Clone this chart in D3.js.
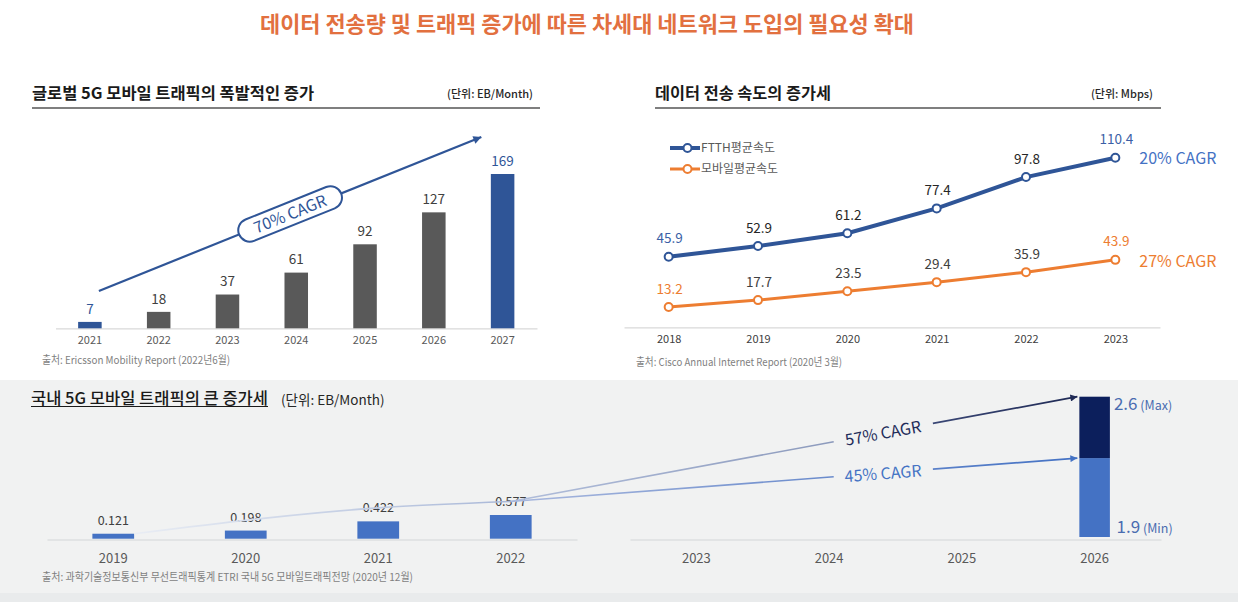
<!DOCTYPE html>
<html>
<head>
<meta charset="utf-8">
<script src="https://cdn.jsdelivr.net/npm/d3@7"></script>
<style>
  body { margin: 0; background: #fff; }
  svg text { font-family: "Noto Sans CJK KR", "Noto Sans", sans-serif; }
</style>
</head>
<body>
<div id="chart"></div>
<script>
// global 5G mobile traffic (EB/Month)
var globalYears = ["2021", "2022", "2023", "2024", "2025", "2026", "2027"];
var globalTraffic = [7, 18, 37, 61, 92, 127, 169];

// data transfer speed (Mbps)
var speedYears = ["2018", "2019", "2020", "2021", "2022", "2023"];
var ftthSpeed = [45.9, 52.9, 61.2, 77.4, 97.8, 110.4];
var mobileSpeed = [13.2, 17.7, 23.5, 29.4, 35.9, 43.9];
var speedSeries = ["FTTH평균속도", "모바일평균속도"];
var speedCagr = ["20% CAGR", "27% CAGR"];

// domestic 5G mobile traffic (EB/Month)
var krYears = ["2019", "2020", "2021", "2022"];
var krTraffic = [0.121, 0.198, 0.422, 0.577];
var forecastYears = ["2023", "2024", "2025", "2026"];
var forecast2026 = [1.9, 2.6];          // min, max
var forecastNames = ["(Min)", "(Max)"];
var forecastCagr = ["45% CAGR", "57% CAGR"];

var W = 1238, H = 602;
var blue = "#2f5597", mid = "#4472c4", navy = "#0c1f5c", orange = "#ed7d31";

var svg = d3.select("#chart").append("svg")
  .attr("width", W)
  .attr("height", H);
var defs = svg.append("defs");

// text placed by its visual centre
function label(g, x, cy, txt, size, color, anchor, weight) {
  return g.append("text")
    .attr("x", x)
    .attr("y", cy + size * 0.36)
    .attr("font-size", size)
    .attr("fill", color)
    .attr("text-anchor", anchor || "start")
    .attr("font-weight", weight || 400)
    .text(txt);
}

function arrowMarker(id, color, len, wid) {
  defs.append("marker")
    .attr("id", id)
    .attr("viewBox", "0 0 10 10")
    .attr("refX", 10).attr("refY", 5)
    .attr("markerUnits", "userSpaceOnUse")
    .attr("markerWidth", len).attr("markerHeight", wid)
    .attr("orient", "auto")
    .append("path")
    .attr("d", "M0,0L10,5L0,10Z")
    .attr("fill", color);
}

function gradient(id, x1, x2, stops) {
  var g = defs.append("linearGradient")
    .attr("id", id)
    .attr("gradientUnits", "userSpaceOnUse")
    .attr("x1", x1).attr("x2", x2).attr("y1", 0).attr("y2", 0);
  stops.forEach(function(s) {
    g.append("stop").attr("offset", s[0]).attr("stop-color", s[1]);
  });
}

function styleAxis(g, size, color, line) {
  g.select(".domain").attr("stroke", line).attr("stroke-width", 1.2);
  g.selectAll("text").attr("font-size", size).attr("fill", color);
}

// main title
label(svg, 587, 24, "데이터 전송량 및 트래픽 증가에 따른 차세대 네트워크 도입의 필요성 확대", 22, "#e2703f", "middle", 700)
  .attr("textLength", 654)
  .attr("lengthAdjust", "spacingAndGlyphs");

// ---------- panel 1 : global 5G traffic ----------
label(svg, 32, 93, "글로벌 5G 모바일 트래픽의 폭발적인 증가", 16, "#1a1a1a", "start", 700)
  .attr("textLength", 282).attr("lengthAdjust", "spacingAndGlyphs");
label(svg, 533, 94.5, "(단위: EB/Month)", 11, "#262626", "end", 500);
svg.append("line")
  .attr("x1", 32).attr("x2", 540).attr("y1", 108).attr("y2", 108)
  .attr("stroke", "#7f7f7f").attr("stroke-width", 2);

var xL = d3.scaleBand().domain(globalYears).range([55.5, 537]).paddingInner(0.658).paddingOuter(0.329);
var yL = d3.scaleLinear().domain([0, 169]).range([328.3, 174]);
var lastL = globalYears.length - 1;

svg.append("g")
  .attr("transform", "translate(0," + yL(0) + ")")
  .call(d3.axisBottom(xL).tickSize(0).tickSizeOuter(0).tickPadding(8))
  .call(styleAxis, 11, "#595959", "#d9d9d9");

svg.append("g").selectAll("rect")
  .data(globalTraffic)
  .join("rect")
  .attr("x", function(d, i) { return xL(globalYears[i]); })
  .attr("width", xL.bandwidth())
  .attr("y", function(d) { return yL(d); })
  .attr("height", function(d) { return yL(0) - yL(d); })
  .attr("fill", function(d, i) { return (i == 0 || i == lastL) ? blue : "#595959"; });

svg.append("g").selectAll("text")
  .data(globalTraffic)
  .join("text")
  .attr("x", function(d, i) { return xL(globalYears[i]) + xL.bandwidth() / 2; })
  .attr("y", function(d) { return yL(d) - 8.3; })
  .attr("text-anchor", "middle")
  .attr("font-size", 13.5)
  .attr("fill", function(d, i) { return (i == 0 || i == lastL) ? blue : "#404040"; })
  .text(function(d) { return d; });

// 70% CAGR arrow
arrowMarker("headBlue", blue, 11, 8);
var a0 = [xL(globalYears[0]) + xL.bandwidth() / 2 + 9, yL(globalTraffic[0]) - 31];
var a1 = [xL(globalYears[lastL]) - 9.5, yL(globalTraffic[lastL]) - 37];
svg.append("line")
  .attr("x1", a0[0]).attr("y1", a0[1]).attr("x2", a1[0]).attr("y2", a1[1])
  .attr("stroke", blue).attr("stroke-width", 2.2)
  .attr("marker-end", "url(#headBlue)");
var ang = Math.atan2(a1[1] - a0[1], a1[0] - a0[0]) * 180 / Math.PI;
var pill = svg.append("g")
  .attr("transform", "translate(" + (a0[0] + a1[0]) / 2 + "," + (a0[1] + a1[1]) / 2 + ") rotate(" + ang + ")");
pill.append("rect")
  .attr("x", -55).attr("y", -11.5).attr("width", 110).attr("height", 23).attr("rx", 11.5)
  .attr("fill", "#fff").attr("stroke", blue).attr("stroke-width", 2);
label(pill, 0, 0, "70% CAGR", 16, blue, "middle");

label(svg, 42, 360, "출처: Ericsson Mobility Report (2022년6월)", 11, "#7f7f7f")
  .attr("textLength", 188).attr("lengthAdjust", "spacingAndGlyphs");

// ---------- panel 2 : transfer speed ----------
label(svg, 655, 93, "데이터 전송 속도의 증가세", 16, "#1a1a1a", "start", 700)
  .attr("textLength", 176).attr("lengthAdjust", "spacingAndGlyphs");
label(svg, 1153, 94.5, "(단위: Mbps)", 11, "#262626", "end", 500);
svg.append("line")
  .attr("x1", 655).attr("x2", 1161).attr("y1", 108).attr("y2", 108)
  .attr("stroke", "#7f7f7f").attr("stroke-width", 2);

var xR = d3.scalePoint().domain(speedYears).range([624, 1160]).padding(0.5);
var yR = d3.scaleLinear().domain([0, 110.4]).range([327.3, 157.7]);

svg.append("g")
  .attr("transform", "translate(0," + yR(0) + ")")
  .call(d3.axisBottom(xR).tickSize(0).tickSizeOuter(0).tickPadding(8))
  .call(styleAxis, 11, "#404040", "#d9d9d9");

var series = [
  { values: ftthSpeed, color: blue, width: 4, tip: mid, text: "#262626" },
  { values: mobileSpeed, color: orange, width: 3, tip: orange, text: "#404040" }
];
var line = d3.line()
  .x(function(d, i) { return xR(speedYears[i]); })
  .y(function(d) { return yR(d); });
var lastR = speedYears.length - 1;

series.forEach(function(s, k) {
  svg.append("path")
    .datum(s.values)
    .attr("fill", "none")
    .attr("stroke", s.color)
    .attr("stroke-width", s.width)
    .attr("d", line);
  svg.append("g").selectAll("circle")
    .data(s.values)
    .join("circle")
    .attr("cx", function(d, i) { return xR(speedYears[i]); })
    .attr("cy", function(d) { return yR(d); })
    .attr("r", 4)
    .attr("fill", "#fff")
    .attr("stroke", s.color)
    .attr("stroke-width", 2);
  svg.append("g").selectAll("text")
    .data(s.values)
    .join("text")
    .attr("x", function(d, i) { return xR(speedYears[i]) + 1; })
    .attr("y", function(d) { return yR(d) - 13.4; })
    .attr("text-anchor", "middle")
    .attr("font-size", 13.5)
    .attr("fill", function(d, i) { return (i == 0 || i == lastR) ? (k == 0 ? "#3b5fa6" : orange) : s.text; })
    .text(function(d) { return d.toFixed(1); });
  // cagr label at the end of the line
  label(svg, xR(speedYears[lastR]) + 24, yR(s.values[lastR]) + 1, speedCagr[k], 16, s.tip);
  // legend
  var ly = 148 + k * 21;
  svg.append("line")
    .attr("x1", 670).attr("x2", 700).attr("y1", ly).attr("y2", ly)
    .attr("stroke", s.color).attr("stroke-width", s.width);
  svg.append("circle")
    .attr("cx", 687.5).attr("cy", ly).attr("r", 4)
    .attr("fill", "#fff").attr("stroke", s.color).attr("stroke-width", 2);
  label(svg, 701, ly, speedSeries[k], 12, "#595959")
    .attr("textLength", k == 0 ? 74 : 77).attr("lengthAdjust", "spacingAndGlyphs");
});

label(svg, 636, 362, "출처: Cisco Annual Internet Report (2020년 3월)", 11, "#7f7f7f")
  .attr("textLength", 206).attr("lengthAdjust", "spacingAndGlyphs");

// ---------- panel 3 : domestic 5G traffic ----------
svg.append("rect").attr("x", 0).attr("y", 380).attr("width", W).attr("height", 213).attr("fill", "#f1f2f2");
svg.append("rect").attr("x", 0).attr("y", 593).attr("width", W).attr("height", 9).attr("fill", "#e9ebec");

label(svg, 31, 398.5, "국내 5G 모바일 트래픽의 큰 증가세", 16, "#1a1a1a", "start", 500)
  .attr("textLength", 237).attr("lengthAdjust", "spacingAndGlyphs");
svg.append("line")
  .attr("x1", 31).attr("x2", 268).attr("y1", 406.5).attr("y2", 406.5)
  .attr("stroke", "#1a1a1a").attr("stroke-width", 1.2);
label(svg, 281, 400, "(단위: EB/Month)", 13.5, "#262626");

var xB1 = d3.scaleBand().domain(krYears).range([47, 577]).paddingInner(0.685).paddingOuter(0.3425);
var yB1 = d3.scaleLinear().domain([0, 0.577]).range([538.7, 515]);
// forecast bar is drawn on its own scale, not zero based, as in the picture
var xB2 = d3.scaleBand().domain(forecastYears).range([630, 1161]).paddingInner(0.77).paddingOuter(0.385);
var yB2 = d3.scaleLinear().domain([1, 2.6]).range([537, 396.7]);

svg.append("g")
  .attr("transform", "translate(0,539.5)")
  .call(d3.axisBottom(xB1).tickSize(0).tickSizeOuter(0).tickPadding(14))
  .call(styleAxis, 13, "#595959", "#d3d6d8");
svg.append("g")
  .attr("transform", "translate(0,539.5)")
  .call(d3.axisBottom(xB2).tickSize(0).tickSizeOuter(0).tickPadding(14))
  .call(styleAxis, 13, "#595959", "#d3d6d8");

svg.append("g").selectAll("rect")
  .data(krTraffic)
  .join("rect")
  .attr("x", function(d, i) { return xB1(krYears[i]); })
  .attr("width", xB1.bandwidth())
  .attr("y", function(d) { return yB1(d); })
  .attr("height", function(d) { return yB1(0) - yB1(d); })
  .attr("fill", mid);

svg.append("g").selectAll("text")
  .data(krTraffic)
  .join("text")
  .attr("x", function(d, i) { return xB1(krYears[i]) + xB1.bandwidth() / 2; })
  .attr("y", function(d) { return yB1(d) - 9; })
  .attr("text-anchor", "middle")
  .attr("font-size", 12.5)
  .attr("fill", "#404040")
  .text(function(d) { return d.toFixed(3); });

// 2026 forecast bar: min part and max part
var fx = xB2(forecastYears[3]), fw = xB2.bandwidth();
svg.append("rect")
  .attr("x", fx).attr("width", fw)
  .attr("y", yB2(forecast2026[0])).attr("height", yB2(1) - yB2(forecast2026[0]))
  .attr("fill", mid);
svg.append("rect")
  .attr("x", fx).attr("width", fw)
  .attr("y", yB2(forecast2026[1])).attr("height", yB2(forecast2026[0]) - yB2(forecast2026[1]))
  .attr("fill", navy);

var maxTxt = label(svg, fx + fw + 4, yB2(forecast2026[1]) + 7.6, "", 17, "#4a6cb0");
maxTxt.append("tspan").text(forecast2026[1].toFixed(1));
maxTxt.append("tspan").attr("font-size", 12.5).text(" " + forecastNames[1]);
var minTxt = label(svg, fx + fw + 6.7, yB2(1) - 9.7, "", 17, "#4a6cb0");
minTxt.append("tspan").text(forecast2026[0].toFixed(1));
minTxt.append("tspan").attr("font-size", 12.5).text(" " + forecastNames[0]);

// trend line through the labels, then the two cagr arrows
var bw1 = xB1.bandwidth();
var pts = [
  [xB1(krYears[0]) + bw1, yB1(krTraffic[0])],
  [xB1(krYears[2]) + bw1 / 2, yB1(krTraffic[2]) - 13.5],
  [xB1(krYears[3]) + bw1 / 2, yB1(krTraffic[3]) - 13.5]
];
gradient("gBase", pts[0][0], pts[2][0], [[0, "#e9edf4"], [1, "#a9b8d8"]]);
svg.append("path")
  .datum(pts)
  .attr("fill", "none")
  .attr("stroke", "url(#gBase)")
  .attr("stroke-width", 1.6)
  .attr("d", d3.line().curve(d3.curveMonotoneX));

var pivot = pts[2];
var tipX = fx - 2;
gradient("gMax", pivot[0], tipX, [[0, "#b1bedb"], [0.56, "#8d9bbd"], [0.75, "#3a4775"], [1, "#1f2a55"]]);
gradient("gMin", pivot[0], tipX, [[0, "#aab9de"], [0.56, "#6a8bcc"], [1, mid]]);
arrowMarker("headNavy", "#1f2a55", 10, 7);
arrowMarker("headMid", mid, 10, 7);

[
  { v: forecast2026[1], grad: "url(#gMax)", head: "url(#headNavy)", text: forecastCagr[1], color: "#1f2d5a" },
  { v: forecast2026[0], grad: "url(#gMin)", head: "url(#headMid)", text: forecastCagr[0], color: mid }
].forEach(function(c) {
  var tip = [tipX, yB2(c.v)];
  var at = function(t) { return [pivot[0] + (tip[0] - pivot[0]) * t, pivot[1] + (tip[1] - pivot[1]) * t]; };
  var g0 = at(0.57), g1 = at(0.745), mid2 = at(0.657);
  svg.append("line")
    .attr("x1", pivot[0]).attr("y1", pivot[1]).attr("x2", g0[0]).attr("y2", g0[1])
    .attr("stroke", c.grad).attr("stroke-width", 1.6);
  svg.append("line")
    .attr("x1", g1[0]).attr("y1", g1[1]).attr("x2", tip[0]).attr("y2", tip[1])
    .attr("stroke", c.grad).attr("stroke-width", 1.8)
    .attr("marker-end", c.head);
  var a = Math.atan2(tip[1] - pivot[1], tip[0] - pivot[0]) * 180 / Math.PI;
  var tg = svg.append("g")
    .attr("transform", "translate(" + mid2[0] + "," + (mid2[1] + 0.5) + ") rotate(" + a + ")");
  label(tg, 0, 0, c.text, 16, c.color, "middle");
});

label(svg, 42, 577.3, "출처: 과학기술정보통신부 무선트래픽통계 ETRI 국내 5G 모바일트래픽전망 (2020년 12월)", 11, "#7f7f7f")
  .attr("textLength", 371).attr("lengthAdjust", "spacingAndGlyphs");
</script>
</body>
</html>
